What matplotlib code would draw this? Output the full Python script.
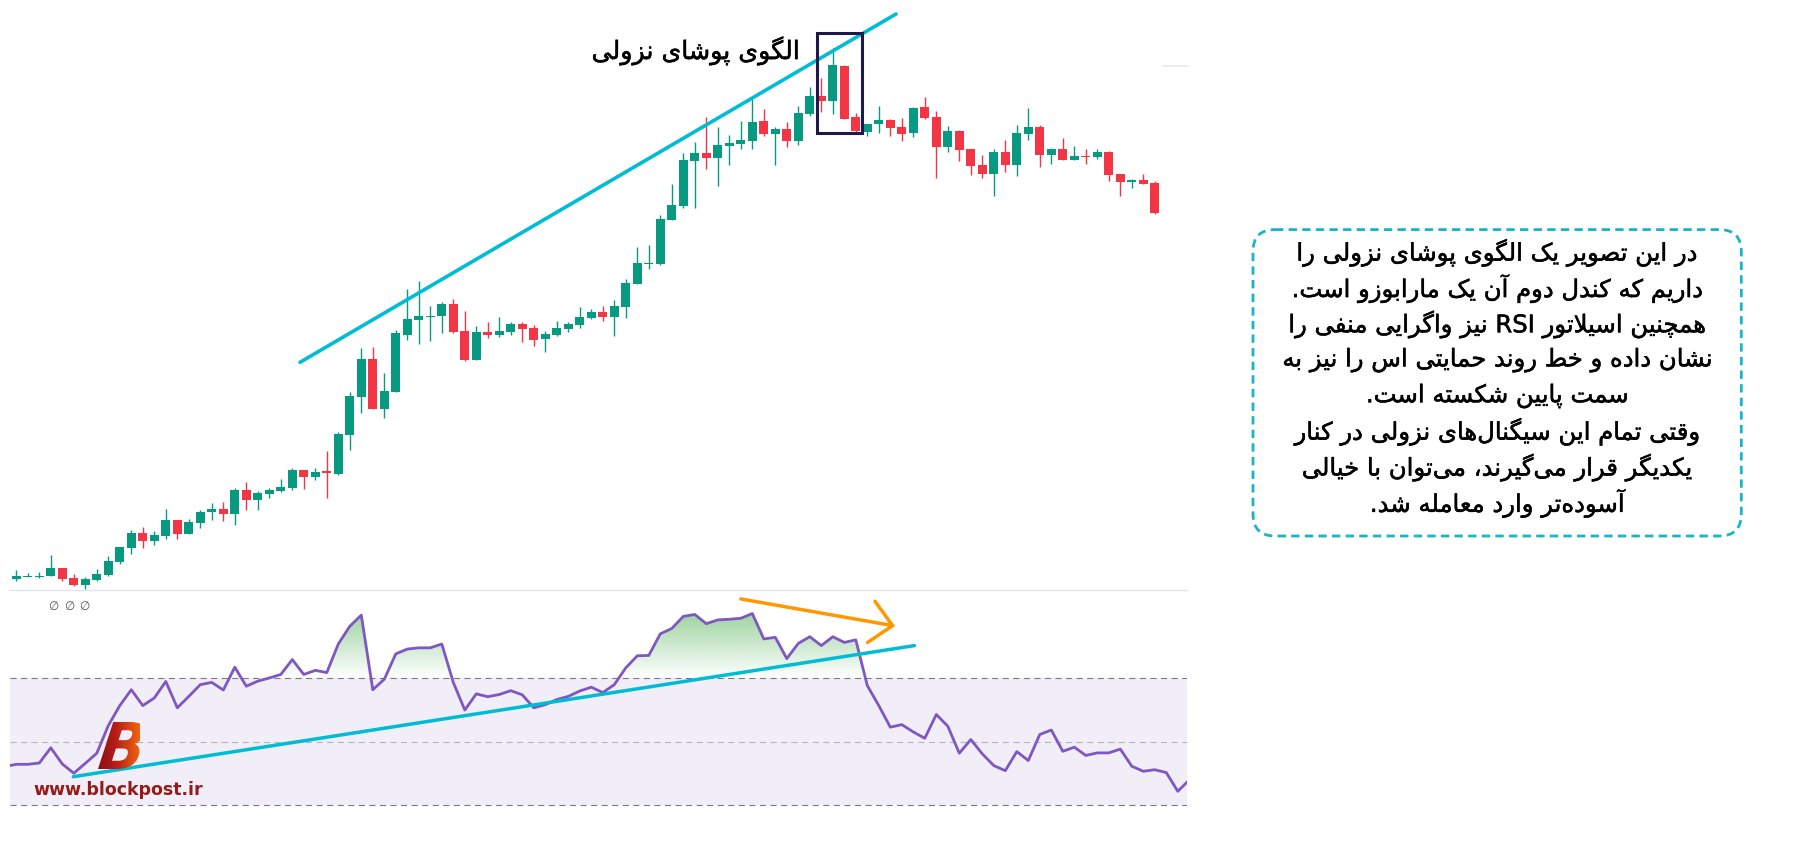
import re

import matplotlib
matplotlib.use("Agg")
import matplotlib.patheffects as pe
import matplotlib.pyplot as plt
import numpy as np
from matplotlib.colors import LinearSegmentedColormap, to_rgb
from matplotlib.font_manager import FontProperties
from matplotlib.patches import FancyBboxPatch, PathPatch, Rectangle
from matplotlib.path import Path
from matplotlib.textpath import TextPath
from matplotlib.transforms import Affine2D

plt.rcParams["font.family"] = ["DejaVu Sans"]

# candle data (arbitrary price units)
opens = [20, 22, 22, 23, 31, 21, 14, 19, 24, 37, 51, 66, 58, 63, 79, 65, 76, 87, 90, 85,
         109, 99, 105, 108, 111, 129, 122, 127.5, 125, 164, 202, 240, 190, 207, 264, 279, 282, 283, 295, 268,
         239, 267, 264, 267, 275, 271, 260, 264, 270, 274, 281, 287, 282, 292, 315, 335.3, 335, 379, 393, 438,
         446, 441, 453, 455, 458, 478, 465, 470, 458, 485, 503, 498, 533, 482, 467, 475, 479, 472, 466, 492,
         482, 452, 468, 450, 434, 425, 447, 434, 465, 472, 444, 450, 439, 443, 442, 447, 425, 417, 419, 416]
highs = [29, 26, 27, 44, 31, 25, 22, 30, 43, 52, 69, 72, 68, 90, 79, 80, 89, 96, 97, 111,
         117, 108, 111, 120, 131, 129, 131, 148, 167, 207, 251, 252, 226, 269, 310, 318, 293, 297, 300, 288,
         273, 277, 282, 277, 277, 274, 268, 278, 277, 292, 290, 293, 299, 320, 352, 354, 384, 415, 446, 457,
         482, 472, 464, 478, 500, 490, 472, 477, 493, 512, 521, 551, 534, 486, 475, 493, 480, 481, 492, 502,
         488, 473, 469, 450, 444, 450, 459, 474, 491, 474, 451, 461, 453, 450, 450, 448, 425, 420, 425, 418]
lows = [18, 22, 21, 23, 18, 13, 10, 18, 23, 35, 45, 51, 54, 60, 60, 65, 71, 79, 78, 74,
        89, 89, 101, 107, 109, 110, 119, 101, 124, 149, 186, 190, 181, 207, 259, 255, 258, 266, 266, 238,
        239, 261, 262, 264, 257, 253, 247, 263, 267, 271, 280, 278, 263, 281, 315, 330, 334, 379, 391, 391,
        430, 413, 434, 450, 450, 463, 434, 452, 454, 483, 487, 485, 480, 466, 463, 466, 463, 458, 462, 480,
        421, 447, 438, 424, 421, 403, 427, 423, 459, 432, 435, 439, 439, 435, 440, 418, 403, 411, 415, 385]
closes = [23, 23, 23, 31, 20, 14, 20, 25, 38, 52, 66, 58, 64, 79, 65, 77, 87, 90, 85, 109,
          99, 106, 109, 112, 129, 122, 127, 126.8, 165, 203, 240, 190, 208, 266, 280, 283, 283, 295, 267, 239,
          267, 264, 268, 275, 270, 259, 265, 271, 275, 282, 287, 282, 293, 316, 336, 336, 380, 394, 439, 446,
          441, 454, 456, 459, 477, 465, 470, 458, 486, 503, 498, 534, 480, 468, 475, 479, 471, 465, 491, 481,
          452, 468, 449, 433, 425, 447, 434, 466, 472, 444, 450, 439, 443, 442.5, 447, 424, 417, 419, 415, 386]

# RSI values, first one belongs to the bar before the first candle
rsi_start = -1
rsi = [42.2, 42.9, 42.9, 43.3, 48.1, 43.0, 40.1, 43.2, 46.4, 55.1, 61.4, 66.4, 61.4, 63.8, 69.0, 60.7,
       64.3, 68.0, 68.7, 66.3, 73.5, 67.5, 69.1, 70.1, 71.2, 75.9, 71.2, 72.5, 71.8, 80.8, 86.4, 89.9,
       66.4, 69.7, 77.7, 79.2, 79.6, 79.6, 80.8, 68.7, 60.0, 65.1, 64.2, 64.9, 66.1, 64.8, 60.7, 61.7,
       63.3, 64.3, 66.0, 67.2, 65.5, 68.0, 73.3, 77.1, 77.2, 84.0, 85.7, 89.5, 90.1, 87.2, 88.4, 88.6,
       88.9, 90.4, 82.4, 82.9, 76.2, 81.0, 83.1, 80.3, 83.1, 81.3, 82.1, 67.7, 61.4, 54.6, 55.4, 53.1,
       51.1, 58.6, 54.9, 46.4, 50.7, 46.2, 42.5, 40.9, 46.9, 44.1, 52.3, 53.7, 47.0, 48.3, 45.7, 46.5,
       46.5, 47.7, 42.3, 40.7, 41.2, 40.3, 34.4, 38.0]

# hand drawn annotations (bar index, price / rsi)
price_trend_x = [24.67, 76.5]
price_trend_y = [236.7, 585.0]
engulf_box = (69.64, 465.8, 3.88, 100.0)
rsi_trend_x = [4.96, 78.1]
rsi_trend_y = [39.0, 80.3]
arrow_x = [63.0, 76.2]
arrow_y = [95.0, 86.6]
arrow_head_x = [74.67, 76.2, 74.03]
arrow_head_y = [94.25, 86.6, 81.3]

title = "الگوی پوشای نزولی"
note_lines = [
    "در این تصویر یک الگوی پوشای نزولی را",
    "داریم که کندل دوم آن یک مارابوزو است.",
    "همچنین اسیلاتور RSI نیز واگرایی منفی را",
    "نشان داده و خط روند حمایتی اس را نیز به",
    "سمت پایین شکسته است.",
    "وقتی تمام این سیگنال\u200cهای نزولی در کنار",
    "یکدیگر قرار می\u200cگیرند، می\u200cتوان با خیالی",
    "آسوده\u200cتر وارد معامله شد.",
]

GREEN = "#089981"
RED = "#f23645"
CYAN = "#00bcd4"

# isolated, final, initial, medial presentation forms
FORMS = {
    "\u0622": "\uFE81\uFE82", "\u0627": "\uFE8D\uFE8E",
    "\u0628": "\uFE8F\uFE90\uFE91\uFE92", "\u062A": "\uFE95\uFE96\uFE97\uFE98",
    "\u062B": "\uFE99\uFE9A\uFE9B\uFE9C", "\u062C": "\uFE9D\uFE9E\uFE9F\uFEA0",
    "\u062D": "\uFEA1\uFEA2\uFEA3\uFEA4", "\u062E": "\uFEA5\uFEA6\uFEA7\uFEA8",
    "\u062F": "\uFEA9\uFEAA", "\u0630": "\uFEAB\uFEAC", "\u0631": "\uFEAD\uFEAE",
    "\u0632": "\uFEAF\uFEB0", "\u0633": "\uFEB1\uFEB2\uFEB3\uFEB4",
    "\u0634": "\uFEB5\uFEB6\uFEB7\uFEB8", "\u0635": "\uFEB9\uFEBA\uFEBB\uFEBC",
    "\u0636": "\uFEBD\uFEBE\uFEBF\uFEC0", "\u0637": "\uFEC1\uFEC2\uFEC3\uFEC4",
    "\u0638": "\uFEC5\uFEC6\uFEC7\uFEC8", "\u0639": "\uFEC9\uFECA\uFECB\uFECC",
    "\u063A": "\uFECD\uFECE\uFECF\uFED0", "\u0641": "\uFED1\uFED2\uFED3\uFED4",
    "\u0642": "\uFED5\uFED6\uFED7\uFED8", "\u0644": "\uFEDD\uFEDE\uFEDF\uFEE0",
    "\u0645": "\uFEE1\uFEE2\uFEE3\uFEE4", "\u0646": "\uFEE5\uFEE6\uFEE7\uFEE8",
    "\u0647": "\uFEE9\uFEEA\uFEEB\uFEEC", "\u0648": "\uFEED\uFEEE",
    "\u067E": "\uFB56\uFB57\uFB58\uFB59", "\u0686": "\uFB7A\uFB7B\uFB7C\uFB7D",
    "\u0698": "\uFB8A\uFB8B", "\u06A9": "\uFB8E\uFB8F\uFB90\uFB91",
    "\u06AF": "\uFB92\uFB93\uFB94\uFB95", "\u06CC": "\uFBFC\uFBFD\uFBFE\uFBFF",
    "\uFEFB": "\uFEFB\uFEFC", "\uFEF5": "\uFEF5\uFEF6",
}


def shape(line):
    # matplotlib has no arabic shaping, so pick the joined forms and reverse
    s = line.replace("\u064A", "\u06CC").replace("\u0649", "\u06CC").replace("\u0643", "\u06A9")
    s = s.replace("\u0644\u0627", "\uFEFB").replace("\u0644\u0622", "\uFEF5")
    out = []
    for k, ch in enumerate(s):
        f = FORMS.get(ch)
        if f is None:
            out.append(ch)
            continue
        prev = s[k - 1] if k > 0 else ""
        nxt = s[k + 1] if k + 1 < len(s) else ""
        jp = len(FORMS.get(prev, "")) == 4
        jn = len(f) == 4 and nxt in FORMS
        if jp and jn:
            out.append(f[3])
        elif jp:
            out.append(f[1])
        elif jn:
            out.append(f[2])
        else:
            out.append(f[0])
    s = "".join(out).replace("\u200c", "")
    runs = re.findall(r"[A-Za-z0-9]+|[^A-Za-z0-9]+", s)
    return "".join(r if re.match(r"[A-Za-z0-9]", r) else r[::-1] for r in reversed(runs))


W, H = 1820, 845
fig = plt.figure(figsize=(W / 100, H / 100), dpi=100)
fig.patch.set_facecolor("white")

xlim = (-0.548, 101.8)
sep = 590.5
ax = fig.add_axes([10 / W, (H - sep) / H, 1177 / W, sep / H])
axr = fig.add_axes([10 / W, 0, 1177 / W, (H - sep) / H])

# candles
o = np.array(opens, float)
hi = np.array(highs, float)
lo = np.array(lows, float)
c = np.array(closes, float)
x = np.arange(len(o))
cols = np.where(c >= o, GREEN, RED)
ax.vlines(x, lo, hi, colors=cols, lw=1.0, zorder=2)
body = np.abs(c - o)
hgt = np.maximum(body, 1.3)
bot = np.where(body < 1.3, (o + c) / 2 - 0.65, np.minimum(o, c))
ax.bar(x, hgt, width=0.78, bottom=bot, color=cols, linewidth=0, zorder=3)

ax.plot(price_trend_x, price_trend_y, color=CYAN, lw=2.6, solid_capstyle="round", zorder=4)
bx, by, bw, bh = engulf_box
ax.add_patch(Rectangle((bx, by), bw, bh, fill=False, edgecolor="#1d1a4b", lw=2.2, zorder=5))

ax.set_xlim(*xlim)
ax.set_ylim(9.5, 600)
for k in ["top", "left", "right"]:
    ax.spines[k].set_visible(False)
ax.spines["bottom"].set_color("#e0e3eb")
ax.spines["bottom"].set_linewidth(1.0)
ax.set_xticks([])
ax.set_yticks([])

# RSI panel
rx = np.arange(len(rsi)) + rsi_start
rv = np.array(rsi)
axr.axhspan(30, 70, color="#f1eef8", lw=0, zorder=0)
axr.axhline(70, color="#787b86", lw=0.8, ls=(0, (5.5, 4)), zorder=1)
axr.axhline(30, color="#787b86", lw=0.8, ls=(0, (5.5, 4)), zorder=1)
axr.axhline(50, color="#b2b5be", lw=0.8, ls=(0, (5.5, 4)), zorder=1)

fb = axr.fill_between(rx, rv, 70, where=rv > 70, interpolate=True, facecolor="none", edgecolor="none")
clip = PathPatch(Path.make_compound_path(*fb.get_paths()), transform=axr.transData,
                 facecolor="none", edgecolor="none")
axr.add_patch(clip)
grad = np.zeros((200, 1, 4))
grad[..., :3] = to_rgb("#4caf50")
grad[:, 0, 3] = np.linspace(0.0, 0.62, 200)
im = axr.imshow(grad, extent=(xlim[0], xlim[1], 70, 93), origin="lower", aspect="auto", zorder=2)
im.set_clip_path(clip)

axr.plot(rx, rv, color="#7e57c2", lw=2.0, zorder=3)
axr.plot(rsi_trend_x, rsi_trend_y, color=CYAN, lw=2.5, solid_capstyle="round", zorder=4)
axr.plot(arrow_x, arrow_y, color="#ff9800", lw=2.5, solid_capstyle="round", zorder=4)
axr.plot(arrow_head_x, arrow_head_y, color="#ff9800", lw=2.5, solid_capstyle="round",
         solid_joinstyle="miter", zorder=4)

axr.set_xlim(*xlim)
axr.set_ylim(17.8, 97.97)
axr.set_axis_off()

# overlay in pixel coordinates for texts and logo
ov = fig.add_axes([0, 0, 1, 1])
ov.set_zorder(10)
ov.patch.set_alpha(0)
ov.set_autoscale_on(False)
ov.set_xlim(0, W)
ov.set_ylim(H, 0)
ov.set_axis_off()

ov.plot([1163, 1187], [66.7, 66.7], color="#e9ebf0", lw=1.3)
for xx in [53.7, 69.0, 84.3]:
    ov.text(xx, 606.5, "\u2205", ha="center", va="center", fontsize=8.5, color="#555555")

heavy = [pe.withStroke(linewidth=0.35, foreground="black")]
ov.text(696, 52, shape(title), ha="center", va="center", fontsize=18.2, color="black",
        path_effects=heavy)

ov.add_patch(FancyBboxPatch((1253, 230.6), 488.3, 306.4,
                            boxstyle="round,pad=0,rounding_size=22",
                            facecolor="white", edgecolor="#17b5c5", lw=2.0,
                            ls=(0, (3, 1.9)), zorder=1))
for k, line in enumerate(note_lines):
    ov.text(1497, 254 + 35.8 * k, shape(line), ha="center", va="center",
            fontsize=17.5, color="black", zorder=2, path_effects=heavy)

# blockpost logo: gradient "B" and site name
fp = FontProperties(family="DejaVu Sans", weight="bold", style="italic")
tp = TextPath((0, 0), "B", size=100, prop=fp)
bb = tp.get_extents()
tr = (Affine2D().translate(-bb.x0, -bb.y0).scale(41 / bb.width, -47 / bb.height)
      .skew_deg(-8, 0).translate(98, 770))
bpath = tr.transform_path(tp)
bpatch = PathPatch(bpath, facecolor="none", edgecolor="none", transform=ov.transData)
ov.add_patch(bpatch)
cmap = LinearSegmentedColormap.from_list("bp", ["#7a0a12", "#b51d18", "#f0650f"])
gim = ov.imshow(np.linspace(0, 1, 256).reshape(1, -1), extent=(91, 140, 771, 721),
                cmap=cmap, aspect="auto", zorder=6)
gim.set_clip_path(bpatch)
ov.text(33, 790, "www.blockpost.ir", ha="left", va="center", fontsize=12.5,
        fontweight="bold", color="#951b1b")
ov.set_xlim(0, W)
ov.set_ylim(H, 0)

fig.savefig("out.png", dpi=100)
